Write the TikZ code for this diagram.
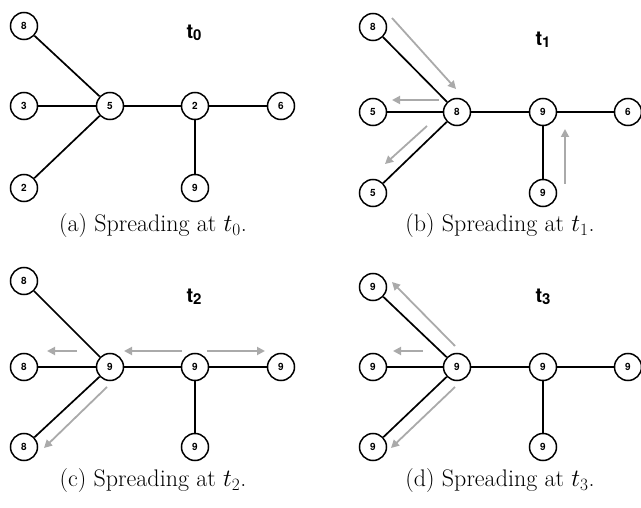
\documentclass[tikz,border=0pt]{standalone}
\usepackage{fontspec}
\newfontfamily\hv{TeX Gyre Heros}
\usetikzlibrary{arrows.meta}
\definecolor{arrgray}{RGB}{170,170,170}
\newcommand{\tsub}[1]{t\kern-0.3pt\raisebox{-2.5pt}{\fontsize{15}{15}\selectfont #1}}
\tikzset{
  nd/.style={circle,draw,line width=1.5pt,minimum size=27pt,inner sep=0pt,fill=white,font=\hv\bfseries\fontsize{10}{10}\selectfont},
  edge/.style={line width=1.7pt},
  garr/.style={draw=arrgray,line width=1.8pt,-{Triangle[length=8pt,width=8pt]},arrgray},
  tlab/.style={font=\hv\bfseries\fontsize{20}{20}\selectfont},
  captxt/.style={font=\addfontfeature{LetterSpace=6}\fontsize{24}{24}\selectfont}
}
\begin{document}
\begin{tikzpicture}[x=1pt,y=-1pt]
\useasboundingbox (0,0) rectangle (641,508);
% ---------- (a)
\node[nd] (a1) at (24,26) {8};
\node[nd] (a2) at (24,106) {3};
\node[nd] (a3) at (24,188) {2};
\node[nd] (a4) at (110,106) {5};
\node[nd] (a5) at (195,106) {2};
\node[nd] (a6) at (281,106) {6};
\node[nd] (a7) at (195,188) {9};
\draw[edge] (a1) -- (a4); \draw[edge] (a2) -- (a4); \draw[edge] (a3) -- (a4);
\draw[edge] (a4) -- (a5); \draw[edge] (a5) -- (a6); \draw[edge] (a5) -- (a7);
\node[tlab] (at) at (194,33) {\tsub{0}};
\node[captxt] (ac) at (153,226) {(a) Spreading at $t_0$.};
% ---------- (b)
\node[nd] (b1) at (373,27) {8};
\node[nd] (b2) at (373,112) {5};
\node[nd] (b3) at (373,193) {5};
\node[nd] (b4) at (457,112) {8};
\node[nd] (b5) at (543,112) {9};
\node[nd] (b6) at (628,112) {6};
\node[nd] (b7) at (543,193) {9};
\draw[edge] (b1) -- (b4); \draw[edge] (b2) -- (b4); \draw[edge] (b3) -- (b4);
\draw[edge] (b4) -- (b5); \draw[edge] (b5) -- (b6); \draw[edge] (b5) -- (b7);
\node[tlab] (bt) at (543,40) {\tsub{1}};
\node[captxt] (bc) at (500,226) {(b) Spreading at $t_1$.};
\coordinate (bp1) at (392,18); \coordinate (bq1) at (456,89);
\coordinate (bp2) at (439,100); \coordinate (bq2) at (392,100);
\coordinate (bp3) at (427,126); \coordinate (bq3) at (385,164);
\coordinate (bp4) at (565,184); \coordinate (bq4) at (565,129);
\draw[garr] (bp1) -- (bq1); \draw[garr] (bp2) -- (bq2);
\draw[garr] (bp3) -- (bq3); \draw[garr] (bp4) -- (bq4);
% ---------- (c)
\node[nd] (c1) at (24,281) {8};
\node[nd] (c2) at (24,367) {8};
\node[nd] (c3) at (24,447) {8};
\node[nd] (c4) at (110,367) {9};
\node[nd] (c5) at (195,367) {9};
\node[nd] (c6) at (281,367) {9};
\node[nd] (c7) at (195,447) {9};
\draw[edge] (c1) -- (c4); \draw[edge] (c2) -- (c4); \draw[edge] (c3) -- (c4);
\draw[edge] (c4) -- (c5); \draw[edge] (c5) -- (c6); \draw[edge] (c5) -- (c7);
\node[tlab] (ct) at (194,297) {\tsub{2}};
\node[captxt] (cc) at (153,481) {(c) Spreading at $t_2$.};
\coordinate (cp1) at (77,351); \coordinate (cq1) at (47,351);
\coordinate (cp2) at (182,351); \coordinate (cq2) at (124,351);
\coordinate (cp3) at (207,351); \coordinate (cq3) at (265,351);
\coordinate (cp4) at (107,387); \coordinate (cq4) at (44,448);
\draw[garr] (cp1) -- (cq1); \draw[garr] (cp2) -- (cq2);
\draw[garr] (cp3) -- (cq3); \draw[garr] (cp4) -- (cq4);
% ---------- (d)
\node[nd] (d1) at (373,287) {9};
\node[nd] (d2) at (373,367) {9};
\node[nd] (d3) at (373,447) {9};
\node[nd] (d4) at (457,367) {9};
\node[nd] (d5) at (543,367) {9};
\node[nd] (d6) at (628,367) {9};
\node[nd] (d7) at (543,447) {9};
\draw[edge] (d1) -- (d4); \draw[edge] (d2) -- (d4); \draw[edge] (d3) -- (d4);
\draw[edge] (d4) -- (d5); \draw[edge] (d5) -- (d6); \draw[edge] (d5) -- (d7);
\node[tlab] (dt) at (543,297) {\tsub{3}};
\node[captxt] (dc) at (500,481) {(d) Spreading at $t_3$.};
\coordinate (dp1) at (455,346); \coordinate (dq1) at (392,282);
\coordinate (dp2) at (423,351); \coordinate (dq2) at (393,351);
\coordinate (dp3) at (455,387); \coordinate (dq3) at (391,448);
\draw[garr] (dp1) -- (dq1); \draw[garr] (dp2) -- (dq2);
\draw[garr] (dp3) -- (dq3);
\end{tikzpicture}
\end{document}
